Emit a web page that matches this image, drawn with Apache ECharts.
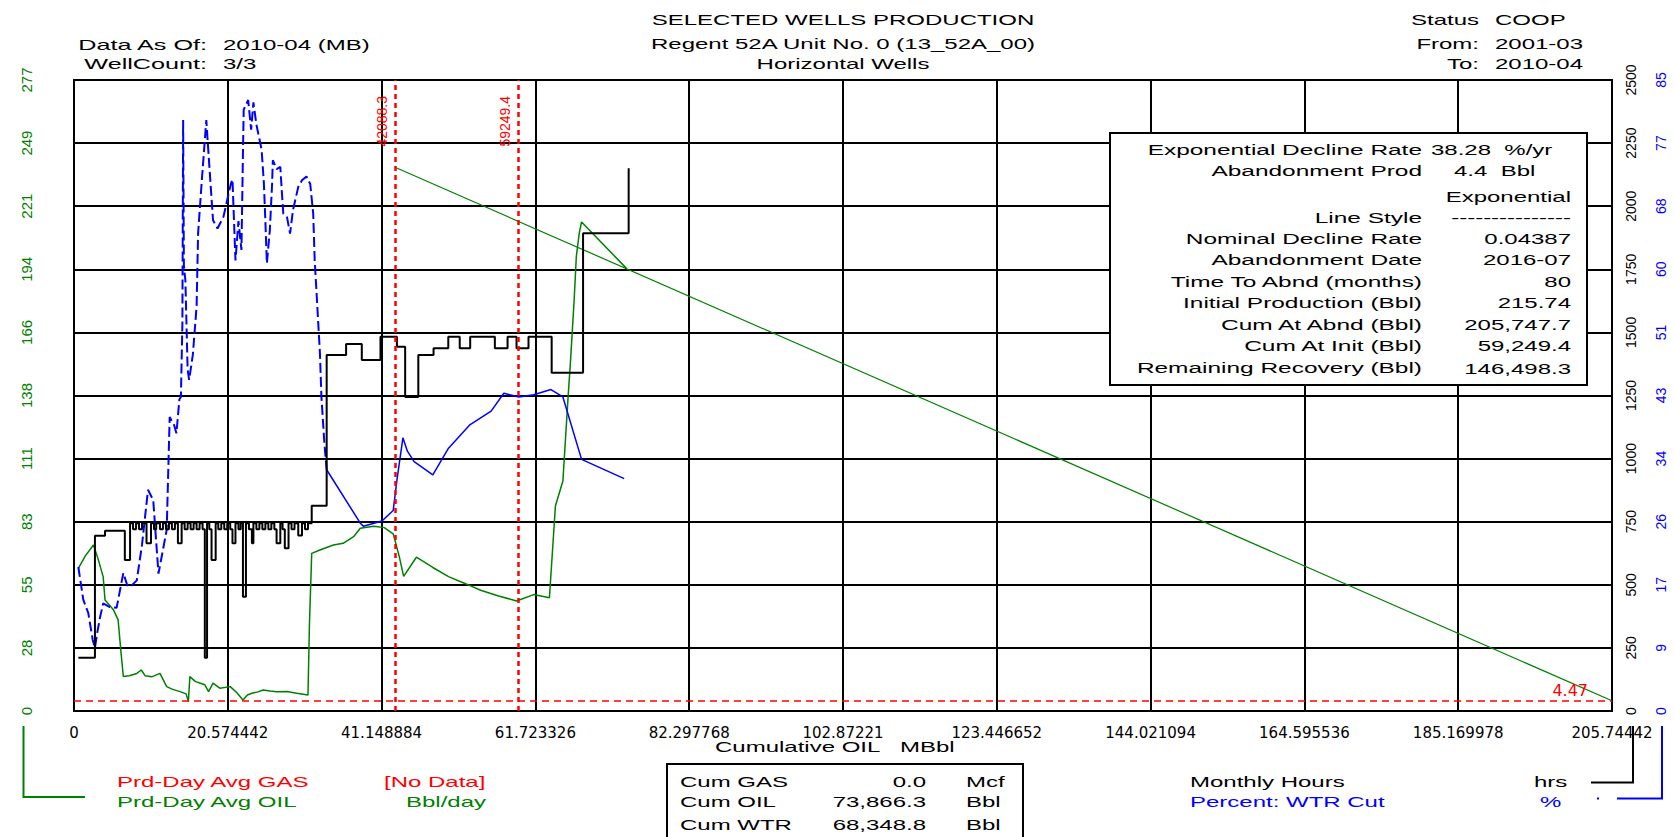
<!DOCTYPE html>
<html>
<head>
<meta charset="utf-8">
<script src="https://cdn.jsdelivr.net/npm/echarts@6/dist/echarts.min.js"></script>
<style>
html,body{margin:0;padding:0;background:#fff;}
#chart{width:1674px;height:837px;}
</style>
</head>
<body>
<div id="chart"></div>
<script>
// ---------- tick labels ----------
const xTickLabels = ['0','20.574442','41.148884','61.723326','82.297768','102.87221','123.446652','144.021094','164.595536','185.169978','205.74442'];
const oilTickLabels = ['0','28','55','83','111','138','166','194','221','249','277'];
const hrsTickLabels = ['0','250','500','750','1000','1250','1500','1750','2000','2250','2500'];
const wtrTickLabels = ['0','9','17','26','34','43','51','60','68','77','85'];

// ---------- series data: [Cumulative OIL (MBbl), value] ----------
const oilRate = [
  [0.58,62.6],[1.5,68],[2.6,72.9],[3.2,67],[3.9,59.0],[4.15,48.7],[5.3,44.3],[5.9,40],[6.3,25.3],[6.6,15.1],
  [7.4,15.5],[8.4,16.5],[9.0,18],[9.5,15.5],[10.4,15],[11.5,16.5],[12.4,10.7],[13.2,9.5],[14.2,8.5],[15.0,7.5],
  [15.3,4.1],[15.5,15.1],[16.2,13],[16.9,12.2],[17.5,11.5],[18.0,8.5],[18.6,12.2],[19.5,10],[20.9,10.7],[21.8,8],
  [22.6,4.8],[23.2,7.0],[23.8,7.8],[24.6,8.4],[25.3,9.2],[26.2,8.8],[27.1,8.5],[28.5,8.6],[29.8,7.8],[31.3,7.0],
  [31.5,38.5],[31.8,69.2],[32.9,70.7],[34.7,72.9],[36.0,73.6],[37.4,76.5],[38.3,80.2],[40.1,81.1],[41.5,80.5],[42.7,77.8],
  [43.5,68],[44.1,59.1],[45.8,67.5],[48.0,63],[50.1,59],[52.3,56],[54.4,53],[56.8,50.5],[59.2,48.3],[61.5,51.1],
  [63.6,49.7],[64.4,90],[65.4,101],[66.1,138],[66.4,152.6],[66.9,180],[67.2,199.6],[67.6,210],[67.9,214.7],[73.9,194.3]
];
const declineLine = [[42.94,238.7],[205.74442,4.47]];
const abandonRate = 4.47;
const cutoffX = [42.94, 59.4];
const cutoffLabels = ['42088.3','59249.4'];

const monthlyHours = [
  [0.58,211],[2.8,694],[4.15,714],[6.8,598],[7.5,744],[7.9,720],[8.3,744],[8.7,720],[9.1,744],[9.7,665],
  [10.3,744],[10.7,720],[11.0,744],[11.5,720],[11.9,744],[12.3,720],[12.7,744],[13.1,720],[13.5,744],[13.9,665],
  [14.4,744],[14.8,720],[15.2,744],[15.6,720],[16.0,744],[16.4,720],[16.8,744],[17.2,720],[17.5,211],[17.8,744],
  [18.1,720],[18.4,598],[18.95,744],[19.3,720],[19.7,744],[20.1,720],[20.5,744],[20.9,720],[21.2,665],[21.6,744],
  [22.0,720],[22.3,744],[22.6,453],[23.0,744],[23.4,720],[23.8,665],[24.0,744],[24.4,720],[24.8,744],[25.2,720],
  [25.6,744],[26.0,720],[26.4,744],[26.8,720],[27.1,665],[27.6,744],[27.9,720],[28.2,645],[28.7,744],[29.1,720],
  [29.5,744],[30.0,695],[30.5,744],[30.9,720],[31.3,744],[31.8,813],[33.8,1410],[36.4,1454],[38.5,1391],[41.0,1483],
  [43.2,1443],[44.3,1244],[46.06,1410],[48.1,1437],[50.07,1483],[51.6,1437],[53.0,1483],[56.3,1437],[58.0,1483],[59.2,1437],
  [60.8,1483],[63.9,1340],[68.1,1893],[74.2,2150]
];

const wtrCutEarly = [
  [0.58,19.4],[1.24,15.0],[1.91,13.2],[2.5,9.6],[2.8,8.5],[3.1,10.5],[3.5,12.7],[3.9,14.5],[4.8,14.0],[5.7,13.9],
  [6.6,18.6],[7.1,17.0],[7.5,16.7],[8.4,17.6],[9.1,22.4],[9.9,29.8],[10.6,28.4],[11.3,18.5],[12.4,24.4],[12.8,39.6],
  [13.4,38.5],[13.7,37.4],[14.1,42.0],[14.3,42.3],[14.5,52.2],[14.6,79.6],[14.7,60],[14.9,58],[15.2,46],[15.4,44.6],
  [15.9,48],[16.4,54.5],[16.6,64.3],[17.1,71.5],[17.7,79.6],[17.9,76.5],[18.2,72],[18.6,66.1],[19.2,65],[20.0,66.6],
  [20.4,68.4],[21.0,71.1],[21.2,71.6],[21.6,60.7],[22.0,66],[22.4,62.1],[22.6,75.1],[22.7,81],[23.3,82.3],[23.7,78.3],
  [24.0,82],[24.4,79],[25.1,75.6],[25.4,71.1],[25.6,66],[25.8,60.3],[26.2,64.8],[26.5,71],[26.6,74.2],[27.1,73],
  [27.6,73.3],[27.8,70],[28.0,67.0],[28.5,66.5],[28.9,64.3],[29.3,67.5],[30.0,70.6],[30.5,71.5],[31.1,72.0],[31.6,71],
  [32.0,67.0],[32.2,60.7],[32.5,55.4],[32.9,48.2],[33.1,42.3],[33.5,36],[33.8,32.5]
];
const wtrCutLate = [
  [33.8,32.5],[38.3,25.3],[38.7,24.9],[41.2,25.6],[42.7,27.0],[43.2,31.1],[44.0,36.8],[44.6,35],[45.5,33.6],[48.0,31.8],
  [50.1,35.4],[52.9,38.5],[55.8,40.4],[57.5,42.8],[59.5,42.3],[61.5,42.6],[63.8,43.3],[65.4,42.3],[67.9,33.9],[73.6,31.3]
];

// ---------- annotation text ----------
const headerLeft = [['Data As Of:','2010-04 (MB)'],['WellCount:','3/3']];
const titleLines = ['SELECTED WELLS PRODUCTION','Regent 52A Unit No. 0 (13_52A_00)','Horizontal Wells'];
const headerRight = [['Status','COOP'],['From:','2001-03'],['To:','2010-04']];
const infoRows = [
  ['Exponential Decline Rate','38.28  %/yr','L1'],
  ['Abandonment Prod','4.4  Bbl','L2'],
  ['','Exponential','R'],
  ['Line Style','---------------','R'],
  ['Nominal Decline Rate','0.04387','R'],
  ['Abandonment Date','2016-07','R'],
  ['Time To Abnd (months)','80','R'],
  ['Initial Production (Bbl)','215.74','R'],
  ['Cum At Abnd (Bbl)','205,747.7','R'],
  ['Cum At Init (Bbl)','59,249.4','R'],
  ['Remaining Recovery (Bbl)','146,498.3','R']
];
const cumRows = [['Cum GAS','0.0','Mcf'],['Cum OIL','73,866.3','Bbl'],['Cum WTR','68,348.8','Bbl']];

const GREEN = '#008000', BLUE = '#0000ff', RED = '#ff0000';
const SX = 1.6;
const FONT = '15px "Liberation Sans"';

function txt(x, y, s, color, align, sx) {
  return {
    type: 'text', x: x, y: y, scaleX: sx || SX, z: 100, silent: true,
    style: { text: s, fill: color || '#000', font: FONT, textAlign: align || 'left',
             textVerticalAlign: 'middle', verticalAlign: 'middle' }
  };
}

const g = [];
// header
const hlY = [45, 64];
headerLeft.forEach((r, i) => { g.push(txt(207, hlY[i], r[0], '#000', 'right', 1.68)); g.push(txt(223, hlY[i], r[1], '#000', 'left')); });
const tY = [20, 44, 64];
titleLines.forEach((t, i) => g.push(txt(843, tY[i], t, '#000', 'center')));
headerRight.forEach((r, i) => { g.push(txt(1479, tY[i], r[0], '#000', 'right')); g.push(txt(1495, tY[i], r[1], '#000', 'left')); });

// info box
g.push({ type: 'rect', z: 90, silent: true, shape: { x: 1110, y: 133, width: 477, height: 252 },
         style: { fill: '#fff', stroke: '#000', lineWidth: 2 } });
const infoY = [149.5, 170.8, 196.4, 217.8, 239.1, 259.4, 281.8, 303.2, 324.5, 345.9, 368.3];
infoRows.forEach((r, i) => {
  if (r[0]) g.push(txt(1422, infoY[i], r[0], '#000', 'right', 1.63));
  if (r[2] === 'L1') g.push(txt(1431, infoY[i], r[1], '#000', 'left'));
  else if (r[2] === 'L2') g.push(txt(1454, infoY[i], r[1], '#000', 'left'));
  else g.push(txt(1571, infoY[i], r[1], '#000', 'right'));
});

// axis title
g.push(txt(715, 747, 'Cumulative OIL', '#000', 'left'));
g.push(txt(900, 747, 'MBbl', '#000', 'left'));

// legend left
g.push(txt(117, 781.5, 'Prd-Day Avg GAS', RED, 'left'));
g.push(txt(384, 781.5, '[No Data]', RED, 'left'));
g.push(txt(117, 801.7, 'Prd-Day Avg OIL', GREEN, 'left'));
g.push(txt(406, 801.7, 'Bbl/day', GREEN, 'left'));
g.push({ type: 'polyline', z: 100, silent: true, shape: { points: [[23.5, 726], [23.5, 797], [85, 797]] },
         style: { stroke: GREEN, lineWidth: 2, fill: null } });

// cum box
g.push({ type: 'rect', z: 90, silent: true, shape: { x: 667, y: 764, width: 356, height: 100 },
         style: { fill: '#fff', stroke: '#000', lineWidth: 2 } });
const cumY = [781.5, 801.7, 825];
cumRows.forEach((r, i) => {
  g.push(txt(680, cumY[i], r[0], '#000', 'left'));
  g.push(txt(926, cumY[i], r[1], '#000', 'right'));
  g.push(txt(966, cumY[i], r[2], '#000', 'left'));
});

// legend right
g.push(txt(1190, 781.5, 'Monthly Hours', '#000', 'left'));
g.push(txt(1534, 781.5, 'hrs', '#000', 'left'));
g.push(txt(1190, 801.7, 'Percent: WTR Cut', BLUE, 'left'));
g.push(txt(1540, 801.7, '%', BLUE, 'left'));
g.push({ type: 'polyline', z: 100, silent: true, shape: { points: [[1633, 726], [1633, 782.5], [1591, 782.5]] },
         style: { stroke: '#000', lineWidth: 2, fill: null } });
g.push({ type: 'polyline', z: 100, silent: true, shape: { points: [[1662, 726], [1662, 798.5], [1617, 798.5]] },
         style: { stroke: BLUE, lineWidth: 2, fill: null } });
g.push({ type: 'rect', z: 100, silent: true, shape: { x: 1597, y: 797.5, width: 2, height: 2 }, style: { fill: BLUE } });

function idxFmt(labels, step) { return v => labels[Math.round(v / step)] || ''; }

const yLabelBase = { rotate: 90, fontFamily: 'Liberation Sans', showMinLabel: true, showMaxLabel: true };

const chart = echarts.init(document.getElementById('chart'), null, { renderer: 'svg' });
chart.setOption({
  animation: false,
  backgroundColor: '#fff',
  grid: { left: 74, top: 80, width: 1538, height: 631, show: true, borderColor: '#000', borderWidth: 2, backgroundColor: '#fff' },
  xAxis: {
    type: 'value', min: 0, max: 205.74442, interval: 20.574442,
    axisLine: { show: false }, axisTick: { show: false },
    splitLine: { show: true, lineStyle: { color: '#000', width: 2 } },
    axisLabel: { formatter: idxFmt(xTickLabels, 20.574442), color: '#000', fontFamily: 'DejaVu Sans', fontSize: 15, margin: 14,
                 showMinLabel: true, showMaxLabel: true }
  },
  yAxis: [
    { type: 'value', position: 'left', min: 0, max: 277, interval: 27.7,
      axisLine: { show: false }, axisTick: { show: false },
      splitLine: { show: true, lineStyle: { color: '#000', width: 2 } },
      axisLabel: Object.assign({ formatter: idxFmt(oilTickLabels, 27.7), color: GREEN, margin: 40, fontSize: 15 }, yLabelBase) },
    { type: 'value', position: 'right', min: 0, max: 2500, interval: 250,
      axisLine: { show: false }, axisTick: { show: false }, splitLine: { show: false },
      axisLabel: Object.assign({ formatter: idxFmt(hrsTickLabels, 250), color: '#000', margin: 12, fontSize: 14 }, yLabelBase) },
    { type: 'value', position: 'right', min: 0, max: 85, interval: 8.5,
      axisLine: { show: false }, axisTick: { show: false }, splitLine: { show: false },
      axisLabel: Object.assign({ formatter: idxFmt(wtrTickLabels, 8.5), color: BLUE, margin: 42, fontSize: 14 }, yLabelBase) }
  ],
  series: [
    { name: 'Prd-Day Avg OIL', type: 'line', yAxisIndex: 0, data: oilRate, showSymbol: false, symbol: 'none',
      lineStyle: { color: GREEN, width: 1.5 }, z: 3,
      markLine: {
        symbol: 'none', silent: true, animation: false,
        lineStyle: { color: RED, type: [5, 4], width: 2.5 },
        label: { show: true, color: RED, fontFamily: 'Liberation Sans', fontSize: 14, position: 'insideEndTop', distance: [16, 6] },
        data: [
          { yAxis: abandonRate, lineStyle: { color: RED, type: [7, 5], width: 1.5 },
            label: { show: true, formatter: String(abandonRate), position: 'insideEndTop', color: RED, fontSize: 16,
                     fontFamily: 'DejaVu Sans', distance: [24, 2] } },
          [ { coord: [cutoffX[0], 0], label: { formatter: cutoffLabels[0] } }, { coord: [cutoffX[0], 277] } ],
          [ { coord: [cutoffX[1], 0], label: { formatter: cutoffLabels[1] } }, { coord: [cutoffX[1], 277] } ]
        ]
      } },
    { name: 'Decline', type: 'line', yAxisIndex: 0, data: declineLine, showSymbol: false, symbol: 'none',
      lineStyle: { color: GREEN, width: 1.2 }, z: 3 },
    { name: 'Monthly Hours', type: 'line', yAxisIndex: 1, data: monthlyHours, step: 'end', showSymbol: false, symbol: 'none',
      lineStyle: { color: '#000', width: 2 }, z: 4 },
    { name: 'Percent: WTR Cut', type: 'line', yAxisIndex: 2, data: wtrCutEarly, showSymbol: false, symbol: 'none',
      lineStyle: { color: BLUE, width: 2, type: [10, 4] }, z: 3 },
    { name: 'Percent: WTR Cut (late)', type: 'line', yAxisIndex: 2, data: wtrCutLate, showSymbol: false, symbol: 'none',
      lineStyle: { color: BLUE, width: 1.5 }, z: 3 }
  ],
  graphic: { elements: g }
});
</script>
</body>
</html>
